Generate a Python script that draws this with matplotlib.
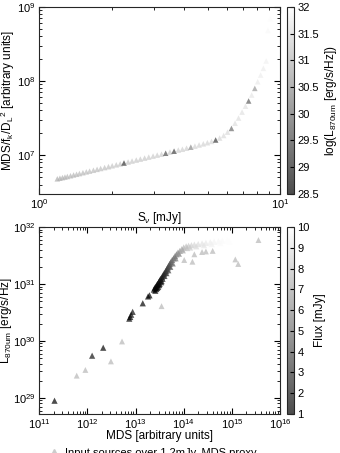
import numpy as np
import matplotlib
matplotlib.use("Agg")
import matplotlib.pyplot as plt
from matplotlib.lines import Line2D
from matplotlib.ticker import NullFormatter

plt.rcParams['font.family'] = ['Liberation Sans', 'DejaVu Sans']
plt.rcParams['mathtext.fontset'] = 'custom'
plt.rcParams['mathtext.rm'] = 'Liberation Sans'
plt.rcParams['mathtext.it'] = 'Liberation Sans:italic'
plt.rcParams['font.size'] = 8.5
for ax_name in ('xtick', 'ytick'):
    plt.rcParams[ax_name + '.direction'] = 'in'
    plt.rcParams[ax_name + '.major.size'] = 4
    plt.rcParams[ax_name + '.minor.size'] = 2
    plt.rcParams[ax_name + '.major.pad'] = 2.5
    plt.rcParams[ax_name + '.labelsize'] = 8
plt.rcParams['xtick.top'] = True
plt.rcParams['ytick.right'] = True
plt.rcParams['axes.edgecolor'] = '0.15'

# --- top panel: flux vs normalised MDS, coloured by log L870 ---
top_flux = [1.19, 1.22, 1.25, 1.28, 1.31, 1.35, 1.39, 1.43, 1.47, 1.52,
            1.57, 1.62, 1.68, 1.74, 1.80, 1.87, 1.94, 2.01, 2.09, 2.17,
            2.25, 2.34, 2.43, 2.53, 2.63, 2.74, 2.85, 2.97, 3.09, 3.22,
            3.35, 3.49, 3.63, 3.78, 3.93, 4.09, 4.26, 4.43, 4.61, 4.80,
            4.99, 5.19, 5.40, 5.61, 5.83, 6.05, 6.28, 6.50, 6.72, 6.95,
            7.18, 7.40, 7.62, 7.85, 8.07, 8.30, 8.52, 8.75, 8.90, 9.10]
top_mds_norm = [4.79e6, 4.88e6, 4.97e6, 5.06e6, 5.15e6, 5.27e6, 5.40e6, 5.52e6, 5.64e6, 5.79e6,
                5.94e6, 6.08e6, 6.25e6, 6.43e6, 6.60e6, 6.79e6, 6.98e6, 7.18e6, 7.40e6, 7.62e6,
                7.83e6, 8.07e6, 8.32e6, 8.58e6, 8.84e6, 9.12e6, 9.40e6, 9.70e6, 1.00e7, 1.03e7,
                1.06e7, 1.10e7, 1.13e7, 1.17e7, 1.20e7, 1.24e7, 1.28e7, 1.32e7, 1.37e7, 1.42e7,
                1.47e7, 1.53e7, 1.60e7, 1.70e7, 1.84e7, 2.04e7, 2.29e7, 2.69e7, 3.16e7, 3.80e7,
                4.57e7, 5.37e7, 6.46e7, 7.94e7, 9.77e7, 1.20e8, 1.48e8, 1.86e8, 4.80e8, 6.90e8]
top_logL = [30.9, 30.9, 30.95, 30.95, 31.0, 31.0, 31.0, 31.05, 31.05, 31.05,
            31.1, 31.1, 31.1, 31.1, 31.15, 31.15, 31.15, 31.2, 31.2, 31.2,
            29.2, 31.2, 31.25, 31.25, 31.25, 31.25, 31.3, 31.3, 31.3, 31.3,
            29.6, 31.3, 29.4, 31.35, 31.35, 31.35, 30.4, 31.4, 31.4, 31.4,
            31.4, 31.45, 29.3, 31.45, 31.5, 31.5, 30.0, 31.55, 31.55, 31.6,
            31.6, 29.8, 31.65, 30.6, 31.7, 31.75, 31.75, 31.8, 31.9, 31.95]

# --- bottom panel: MDS vs L870, coloured by flux (values read as log10) ---
bot_log_mds = [11.32, 12.10, 12.33, 12.87, 12.89, 12.91, 12.94, 13.15, 13.26, 13.29,
               13.38, 13.40, 13.42, 13.44, 13.45, 13.46, 13.48, 13.50, 13.50, 13.52,
               13.54, 13.55, 13.57, 13.59, 13.61, 13.63, 13.65, 13.67, 13.69, 13.71,
               13.73, 13.76, 13.79, 13.82, 13.85, 13.88, 13.92, 13.96, 14.00, 14.05,
               14.10, 14.16, 14.22, 14.30, 14.38, 14.46, 14.55, 14.63, 14.72, 14.80,
               14.90, 15.03,
               13.41, 13.43, 13.47, 13.49, 13.53, 13.56, 13.60, 13.64, 13.68, 13.72,
               13.77, 13.83, 13.90, 13.98, 14.07, 14.13, 14.26, 14.42, 14.58, 14.76,
               14.95]
bot_log_L = [28.95, 29.74, 29.88, 30.39, 30.42, 30.46, 30.51, 30.66, 30.78, 30.80,
             30.90, 30.93, 30.95, 30.98, 30.93, 31.00, 31.03, 31.00, 31.06, 31.09,
             31.05, 31.12, 31.15, 31.18, 31.20, 31.23, 31.26, 31.29, 31.32, 31.35,
             31.38, 31.42, 31.45, 31.49, 31.52, 31.55, 31.58, 31.61, 31.64, 31.66,
             31.67, 31.68, 31.69, 31.70, 31.71, 31.72, 31.73, 31.74, 31.75, 31.76,
             31.77, 31.79,
             30.88, 30.91, 30.95, 30.98, 31.03, 31.09, 31.14, 31.19, 31.24, 31.30,
             31.36, 31.45, 31.53, 31.59, 31.63, 31.64, 31.66, 31.68, 31.70, 31.72,
             31.74]
bot_flux = [1.0, 1.8, 1.2, 1.1, 1.0, 1.3, 1.5, 1.2, 1.1, 1.0,
            1.0, 1.1, 1.0, 1.2, 1.1, 1.3, 1.2, 1.4, 1.5, 1.6,
            1.5, 1.8, 2.0, 2.2, 2.4, 2.6, 2.9, 3.1, 3.4, 3.7,
            4.0, 4.4, 4.8, 5.2, 5.6, 6.0, 6.5, 7.0, 7.4, 7.8,
            8.1, 8.4, 8.6, 8.8, 9.0, 9.2, 9.4, 9.6, 9.7, 9.8,
            9.9, 10.0,
            1.0, 1.1, 1.2, 1.3, 1.5, 1.8, 2.2, 2.7, 3.2, 3.8,
            4.5, 5.2, 6.1, 7.0, 7.8, 8.2, 8.7, 9.1, 9.5, 9.8,
            9.9]

# proxy sources (fixed light grey)
proxy_log_mds = [11.78, 11.96, 12.49, 12.72, 13.54, 14.01, 14.18, 14.22, 14.38,
                 14.46, 14.60, 15.07, 15.13, 15.55]
proxy_log_L = [29.39, 29.49, 29.64, 29.99, 30.61, 31.42, 31.39, 31.52, 31.56,
               31.57, 31.58, 31.43, 31.35, 31.77]

fig = plt.figure(figsize=(3.4, 4.53), dpi=100)

ax1 = fig.add_axes([0.115, 0.572, 0.709, 0.413])
sc1 = ax1.scatter(top_flux, top_mds_norm, c=top_logL, cmap='gray', vmin=28.5, vmax=32,
                  marker='^', s=16, edgecolors='none', alpha=0.7)
ax1.set_xscale('log')
ax1.set_yscale('log')
ax1.set_xlim(1, 10)
ax1.set_ylim(3e6, 1e9)
ax1.xaxis.set_minor_formatter(NullFormatter())
ax1.set_xlabel(r'S$_\nu$ [mJy]', labelpad=-1)
ax1.set_ylabel(r'MDS/f$_\mathrm{k}$/D$_\mathrm{L}$$^2$ [arbitrary units]')
ax1.yaxis.set_label_coords(-0.09, 0.5)
cax1 = fig.add_axes([0.844, 0.572, 0.021, 0.413])
cb1 = fig.colorbar(sc1, cax=cax1, ticks=[28.5, 29, 29.5, 30, 30.5, 31, 31.5, 32])
cb1.set_ticklabels(['28.5', '29', '29.5', '30', '30.5', '31', '31.5', '32'])
cb1.set_label(r'log(L$_\mathrm{870um}$ [erg/s/Hz])', labelpad=3)

ax2 = fig.add_axes([0.115, 0.086, 0.709, 0.413])
ax2.scatter(10 ** np.array(proxy_log_mds), 10 ** np.array(proxy_log_L), color='0.8',
            marker='^', s=18, edgecolors='none')
sc2 = ax2.scatter(10 ** np.array(bot_log_mds), 10 ** np.array(bot_log_L), c=bot_flux,
                  cmap='gray', vmin=1, vmax=10, marker='^', s=20, edgecolors='none', alpha=0.7)
ax2.set_xscale('log')
ax2.set_yscale('log')
ax2.set_xlim(1e11, 1e16)
ax2.set_ylim(5.2e28, 1e32)
ax2.set_xlabel('MDS [arbitrary units]', labelpad=-1)
ax2.set_ylabel(r'L$_\mathrm{870um}$ [erg/s/Hz]')
ax2.yaxis.set_label_coords(-0.105, 0.5)
cax2 = fig.add_axes([0.844, 0.086, 0.021, 0.413])
cb2 = fig.colorbar(sc2, cax=cax2, ticks=range(1, 11))
cb2.set_label('Flux [mJy]', labelpad=3)

for cb in (cb1, cb2):
    cb.ax.tick_params(direction='in', length=3, right=True, labelsize=8)

handle = Line2D([], [], marker='^', color='0.8', linestyle='none', markersize=4)
fig.legend([handle], ['Input sources over 1.2mJy, MDS proxy'], loc='center left',
           bbox_to_anchor=(0.125, 0.0), frameon=False, fontsize=8,
           handlelength=1.0, handletextpad=0.5, borderpad=0)

fig.savefig('out.png', dpi=100)
